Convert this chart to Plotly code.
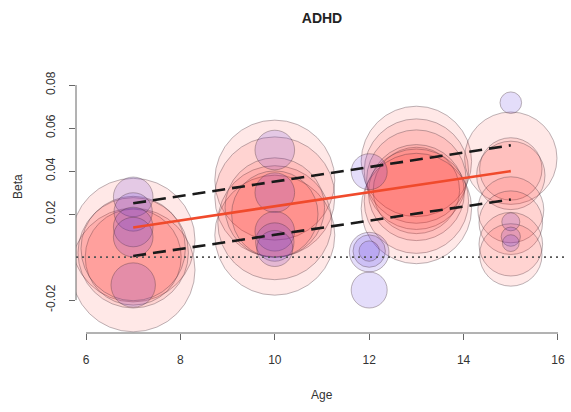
import plotly.graph_objects as go

# Per-study estimates: age at assessment, regression beta, relative weight, cohort type
age = [
    7, 7, 7, 7, 7,
    7, 7, 7, 7, 7,
    10, 10, 10, 10, 10, 10,
    10, 10, 10, 10, 10,
    12, 12, 12, 12, 12,
    13, 13, 13, 13, 13, 13, 13,
    15, 15, 15, 15, 15, 15, 15,
    15, 15, 15, 15,
]
beta = [
    0.0079, -0.0060, 0.0020, 0.0000, 0.0040,
    0.0280, 0.0210, 0.0140, 0.0093, -0.0130,
    0.0358, 0.0280, 0.0102, 0.0160, 0.0230, 0.0200,
    0.0498, 0.0300, 0.0120, 0.0070, 0.0040,
    0.0397, 0.0023, 0.0028, 0.0028, -0.0153,
    0.0445, 0.0400, 0.0360, 0.0310, 0.0300, 0.0260, 0.0226,
    0.0460, 0.0410, 0.0380, 0.0220, 0.0160, 0.0060, 0.0010,
    0.0718, 0.0164, 0.0095, 0.0065,
]
weight = [
    10.3, 10.3, 9.2, 8.0, 8.7,
    3.3, 3.2, 3.3, 3.3, 3.7,
    10.0, 10.0, 10.0, 9.5, 8.3, 7.2,
    3.3, 3.3, 3.3, 3.2, 3.0,
    3.0, 3.3, 2.7, 1.7, 3.0,
    9.2, 8.7, 8.3, 7.2, 8.0, 8.7, 9.2,
    7.7, 5.2, 5.7, 5.5, 5.3, 5.3, 5.2,
    1.8, 1.5, 1.6, 1.4,
]
cohort = [
    "A", "A", "A", "A", "A",
    "B", "B", "B", "B", "B",
    "A", "A", "A", "A", "A", "A",
    "B", "B", "B", "B", "B",
    "B", "B", "B", "B", "B",
    "A", "A", "A", "A", "A", "A", "A",
    "A", "A", "A", "A", "A", "A", "A",
    "B", "B", "B", "B",
]

# Meta-regression fit and its confidence limits
fit_age = [7, 15]
fit_beta = [0.0138, 0.0400]
ci_upper = [0.0250, 0.0520]
ci_lower = [0.0005, 0.0268]

x_ticks = [6, 8, 10, 12, 14, 16]
y_ticks = [-0.02, 0.02, 0.04, 0.06, 0.08]

fills = {"A": "rgba(255,25,20,0.14)", "B": "rgba(95,55,225,0.24)"}
SIZE_SCALE = 12.0  # marker diameter (px) per unit weight

fig = go.Figure()

for grp in ["A", "B"]:
    idx = [i for i, c in enumerate(cohort) if c == grp]
    fig.add_trace(go.Scatter(
        x=[age[i] for i in idx],
        y=[beta[i] for i in idx],
        mode="markers",
        marker=dict(
            size=[weight[i] * SIZE_SCALE for i in idx],
            sizemode="diameter",
            color=fills[grp],
            line=dict(color="rgba(70,45,55,0.5)", width=1),
        ),
        hoverinfo="skip",
        showlegend=False,
    ))

for ci in (ci_upper, ci_lower):
    fig.add_trace(go.Scatter(
        x=fit_age, y=ci, mode="lines",
        line=dict(color="#1a1a1a", width=2.6, dash="13px,7px"),
        hoverinfo="skip", showlegend=False,
    ))

fig.add_trace(go.Scatter(
    x=fit_age, y=fit_beta, mode="lines",
    line=dict(color="#f04a2c", width=2.6),
    hoverinfo="skip", showlegend=False,
))

# reference line at zero
fig.add_shape(type="line", xref="paper", yref="y", x0=0, x1=1, y0=0, y1=0,
              line=dict(color="#555555", width=1.8, dash="2px,4px"))

# R-style axis lines spanning only the tick range
fig.add_shape(type="line", xref="x", yref="paper", x0=x_ticks[0], x1=x_ticks[-1],
              y0=0, y1=0, line=dict(color="#666666", width=1))
fig.add_shape(type="line", xref="paper", yref="y", x0=0, x1=0,
              y0=y_ticks[0], y1=y_ticks[-1], line=dict(color="#666666", width=1))

font = "Liberation Sans, Arial, sans-serif"

fig.update_layout(
    width=571, height=412,
    margin=dict(l=76, r=3, t=41, b=79),
    paper_bgcolor="white", plot_bgcolor="white",
    font=dict(family=font, color="#333333", size=12),
    title=dict(text="<b>ADHD</b>", x=(76 + 568) / 2 / 571, xanchor="center",
               y=1 - 18 / 412, yanchor="middle",
               font=dict(size=14, color="#222222")),
    xaxis=dict(range=[5.788, 16.212], tickvals=x_ticks, ticktext=[str(t) for t in x_ticks],
               ticks="outside", ticklen=6, tickcolor="#666666", showgrid=False,
               zeroline=False, showline=False, ticklabelstandoff=10,
               tickfont=dict(size=12, color="#333333")),
    yaxis=dict(range=[-0.0353, 0.1005], tickvals=y_ticks,
               ticktext=[f"{t:.2f}" for t in y_ticks], tickangle=-90,
               ticks="outside", ticklen=6, tickcolor="#666666", showgrid=False,
               zeroline=False, showline=False, ticklabelstandoff=9,
               tickfont=dict(size=12, color="#333333")),
    annotations=[
        dict(text="Age", xref="paper", yref="paper", x=0.5, y=0, yshift=-62,
             showarrow=False, xanchor="center", yanchor="middle",
             font=dict(size=12, color="#333333")),
        dict(text="Beta", xref="paper", yref="paper", x=0, y=0.5, xshift=-58,
             showarrow=False, xanchor="center", yanchor="middle", textangle=-90,
             font=dict(size=12, color="#333333")),
    ],
)

fig.write_html("out.html")
